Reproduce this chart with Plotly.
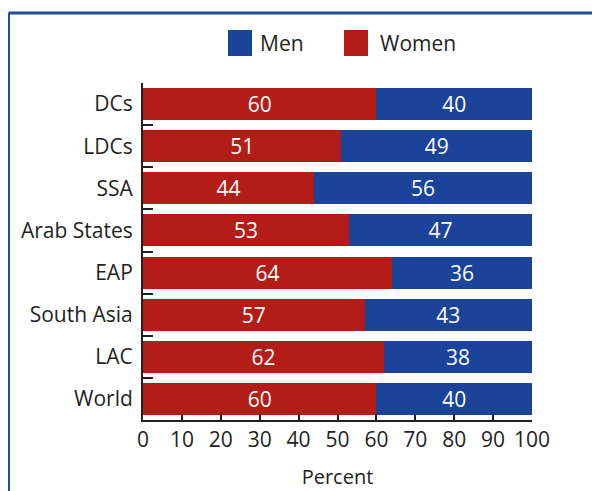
import plotly.graph_objects as go

regions = ["DCs", "LDCs", "SSA", "Arab States", "EAP", "South Asia", "LAC", "World"]
women = [60, 51, 44, 53, 64, 57, 62, 60]
men = [40, 49, 56, 47, 36, 43, 38, 40]
x_ticks = [0, 10, 20, 30, 40, 50, 60, 70, 80, 90, 100]

RED = "#B41C18"
BLUE = "#1A4399"
FONT = "Open Sans"
TXT = "#231F20"

fig = go.Figure()
fig.add_trace(go.Bar(y=regions, x=women, orientation="h", name="Women",
                     marker=dict(color=RED, line=dict(width=0)), width=0.76,
                     text=women, textposition="inside", insidetextanchor="middle",
                     textangle=0, constraintext="none",
                     textfont=dict(color="white", size=21, family=FONT),
                     showlegend=False))
fig.add_trace(go.Bar(y=regions, x=men, orientation="h", name="Men",
                     marker=dict(color=BLUE, line=dict(width=0)), width=0.76,
                     text=men, textposition="inside", insidetextanchor="middle",
                     textangle=0, constraintext="none",
                     textfont=dict(color="white", size=21, family=FONT),
                     showlegend=False))

# legend drawn manually
fig.add_shape(type="rect", xref="paper", yref="paper", x0=0.2185, x1=0.2802, y0=1.0801, y1=1.1573,
              fillcolor=BLUE, line=dict(width=0))
fig.add_shape(type="rect", xref="paper", yref="paper", x0=0.5167, x1=0.5784, y0=1.0801, y1=1.1573,
              fillcolor=RED, line=dict(width=0))
fig.add_annotation(xref="paper", yref="paper", x=0.2956, y=1.1187, text="Men", showarrow=False,
                   xanchor="left", yanchor="middle", font=dict(size=21, family=FONT, color=TXT))
fig.add_annotation(xref="paper", yref="paper", x=0.6041, y=1.1187, text="Women", showarrow=False,
                   xanchor="left", yanchor="middle", font=dict(size=21, family=FONT, color=TXT))

# frame lines (top and left)
fig.add_shape(type="line", xref="paper", yref="paper", x0=-0.3458, x1=-0.3458, y0=-0.4, y1=1.2077,
              line=dict(color="#1F4E9E", width=3))
fig.add_shape(type="line", xref="paper", yref="paper", x0=-0.3458, x1=1.4, y0=1.2077, y1=1.2077,
              line=dict(color="#1F4E9E", width=3))

fig.update_layout(
    width=600, height=491,
    margin=dict(l=135, r=76, t=75, b=79),
    barmode="stack",
    bargap=0.24,
    plot_bgcolor="white", paper_bgcolor="white",
    font=dict(family=FONT, size=21, color=TXT),
    uniformtext=dict(mode=False),
)
fig.update_xaxes(range=[0, 100], tickvals=x_ticks, ticks="inside", ticklen=6, tickwidth=2,
                 tickcolor=TXT, showline=True, linecolor=TXT, linewidth=2,
                 showgrid=False, zeroline=False, tickfont=dict(size=21),
                 title=dict(text="Percent", font=dict(size=20), standoff=18))
fig.update_yaxes(categoryorder="array", categoryarray=regions, autorange="reversed",
                 ticks="inside", tickson="boundaries", ticklen=10, tickwidth=2,
                 tickcolor=TXT, showline=True, linecolor=TXT, linewidth=2,
                 showgrid=False, tickfont=dict(size=21), ticklabelstandoff=4)

fig.write_html("out.html")
